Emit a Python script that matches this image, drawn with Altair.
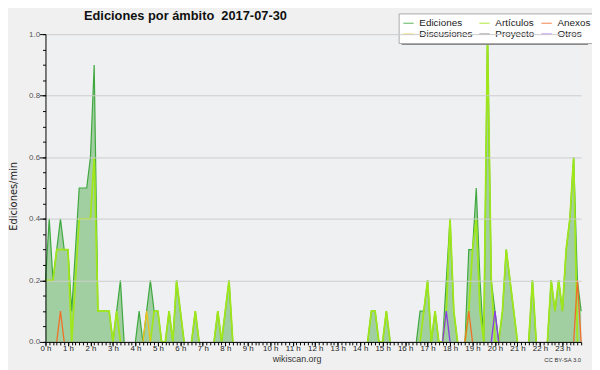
import altair as alt
import pandas as pd

# ---- data: values every 10 minutes (index 0 = 00:00, 143 = 23:50) ----
ediciones = [0.2, 0.4, 0.2, 0.3, 0.4, 0.3, 0.3, 0.1, 0.3, 0.5, 0.5, 0.5, 0.6, 0.9, 0.1, 0.1, 0.1, 0.1, 0, 0.1,
             0.2, 0, 0, 0, 0, 0.1, 0, 0.1, 0.2, 0.1, 0.1, 0, 0, 0.1, 0, 0.2, 0.1, 0, 0, 0,
             0.1, 0, 0, 0, 0, 0, 0.1, 0, 0.1, 0.2, 0, 0, 0, 0, 0, 0, 0, 0, 0, 0,
             0, 0, 0, 0, 0, 0, 0, 0, 0, 0, 0, 0, 0, 0, 0, 0, 0, 0, 0, 0,
             0, 0, 0, 0, 0, 0, 0, 0.1, 0.1, 0, 0, 0.1, 0, 0, 0, 0, 0, 0, 0, 0,
             0.1, 0.1, 0.2, 0, 0.1, 0, 0, 0.2, 0.4, 0.1, 0, 0, 0, 0.3, 0.3, 0.5, 0.2, 0, 1.0, 0.2,
             0.1, 0, 0.1, 0.3, 0.2, 0.1, 0, 0, 0, 0, 0.2, 0, 0, 0, 0, 0.2, 0.1, 0.2, 0.1, 0.3,
             0.4, 0.6, 0.2, 0.1]
articulos = [0.2, 0.2, 0.2, 0.3, 0.3, 0.3, 0.3, 0, 0.2, 0.4, 0.4, 0.4, 0.4, 0.6, 0.1, 0.1, 0.1, 0.1, 0, 0.1,
             0, 0, 0, 0, 0, 0, 0, 0, 0, 0.1, 0.1, 0, 0, 0.1, 0, 0.2, 0.1, 0, 0, 0,
             0.1, 0, 0, 0, 0, 0, 0.1, 0, 0.1, 0.2, 0, 0, 0, 0, 0, 0, 0, 0, 0, 0,
             0, 0, 0, 0, 0, 0, 0, 0, 0, 0, 0, 0, 0, 0, 0, 0, 0, 0, 0, 0,
             0, 0, 0, 0, 0, 0, 0, 0.1, 0.1, 0, 0, 0.1, 0, 0, 0, 0, 0, 0, 0, 0,
             0, 0.1, 0.2, 0, 0.1, 0, 0, 0.1, 0.4, 0.1, 0, 0, 0, 0.1, 0.3, 0.4, 0.1, 0, 1.0, 0.2,
             0, 0, 0.1, 0.3, 0.2, 0.1, 0, 0, 0, 0, 0.2, 0, 0, 0, 0, 0.2, 0.1, 0.2, 0.1, 0.3,
             0.4, 0.6, 0, 0]
anexos = [0] * 4 + [0.1] + [0] * 108 + [0.1] + [0] * 28 + [0.2, 0]
discusiones = [0] * 27 + [0.1] + [0] * 116
otros = [0] * 107 + [0.1] + [0] * 12 + [0.1] + [0] * 23
proyecto = [0] * 144

series_names = ["Ediciones", "Artículos", "Anexos", "Discusiones", "Proyecto", "Otros"]
series_vals = [ediciones, articulos, anexos, discusiones, proyecto, otros]
line_colors = ["#3ea83e", "#9fe61a", "#f07028", "#f2c21a", "#555555", "#8a3ce6"]

rows = []
for name, vals in zip(series_names, series_vals):
    seg = 0
    n = len(vals)
    prev_keep = False
    for j, v in enumerate(vals):
        keep = v > 0 or (j > 0 and vals[j - 1] > 0) or (j < n - 1 and vals[j + 1] > 0)
        if keep:
            rows.append({"serie": name, "t": j / 6, "v": v, "seg": f"{name}{seg}"})
        elif prev_keep:
            seg += 1
        prev_keep = keep
lines_df = pd.DataFrame(rows)
area_df = pd.DataFrame({"t": [j / 6 for j in range(len(ediciones))], "v": ediciones})

W, H = 543, 312
xscale = alt.Scale(domain=[0, 143 / 6], nice=False, zero=False)
yscale = alt.Scale(domain=[0, 1], nice=False)
color_scale = alt.Scale(domain=series_names, range=line_colors)

x_major = alt.X("t:Q", scale=xscale, title=None,
                axis=alt.Axis(values=list(range(24)), labelExpr="datum.value + ' h'", orient="bottom",
                              tickSize=4, tickColor="#000", tickWidth=1, domainColor="#000",
                              labelFont="Liberation Sans", labelFontSize=8, labelColor="#222",
                              labelPadding=-1, grid=False, labelFlush=False, zindex=1))
y_major = alt.Y("v:Q", scale=yscale, title="Ediciones/min",
                axis=alt.Axis(values=[0, 0.2, 0.4, 0.6, 0.8, 1.0], format=".1f", tickSize=6, orient="left",
                              tickColor="#000", tickWidth=1, domainColor="#000",
                              labelFont="Liberation Sans", labelFontSize=8, labelColor="#555",
                              labelPadding=0, grid=True, gridColor="#cccccc", gridWidth=1,
                              titleFont="DejaVu Sans", titleFontSize=10, titleFontWeight="normal",
                              titleColor="#222", titleX=-29, titleY=164, titleAngle=270,
                              titleAlign="center", titleBaseline="alphabetic", zindex=1))

area = alt.Chart(area_df).mark_area(color="#a2cfa2", opacity=1).encode(x=x_major, y=y_major)

minor_ticks = alt.Chart(area_df).mark_point(opacity=0).encode(
    x=alt.X("t:Q", scale=xscale, title=None,
            axis=alt.Axis(values=[j / 6 for j in range(144)], labels=False, tickSize=3, tickWidth=1,
                          tickColor="#000", domain=False, grid=False, orient="bottom", zindex=1)),
    y=alt.Y("v:Q", scale=yscale, title=None,
            axis=alt.Axis(values=[k / 20 for k in range(21)], labels=False, tickSize=3, tickWidth=1,
                          tickColor="#000", domain=False, grid=False, orient="left", zindex=1)),
)

layers = []
widths = {"Ediciones": 1.2, "Artículos": 1.8, "Anexos": 1.3, "Discusiones": 1.3, "Proyecto": 1.3, "Otros": 1.3}
for name in series_names:
    sub = lines_df[lines_df.serie == name]
    if len(sub) == 0:
        sub = pd.DataFrame({"serie": [name], "t": [0.0], "v": [0.0], "seg": [name]})
    layers.append(
        alt.Chart(sub).mark_line(strokeWidth=widths[name], strokeJoin="miter").encode(
            x=alt.X("t:Q", scale=xscale, axis=None),
            y=alt.Y("v:Q", scale=yscale, axis=None),
            color=alt.Color("serie:N", scale=color_scale, title=None,
                            legend=alt.Legend(orient="none", legendX=358, legendY=-21, columns=3,
                                              symbolType="stroke", symbolSize=110,
                                              symbolStrokeWidth=1.3, symbolOpacity=0.65,
                                              labelFont="Liberation Sans", labelFontSize=10,
                                              labelColor="#222", labelOffset=5,
                                              fillColor="#ffffff", strokeColor="#aaaaaa",
                                              padding=4, rowPadding=0, columnPadding=4,
                                              direction="horizontal")),
            detail="seg:N",
            order="t:Q",
        )
    )

one = area_df.head(1)
# legend shadow
shadow = alt.Chart(one).mark_rect(color="#8a8a8a").encode(
    x=alt.value(361), x2=alt.value(550), y=alt.value(8), y2=alt.value(11))
shadow2 = alt.Chart(one).mark_rect(color="#8a8a8a").encode(
    x=alt.value(546), x2=alt.value(550), y=alt.value(-18), y2=alt.value(11))

title = alt.Chart(one).mark_text(
    text="Ediciones por ámbito\u00a0\u00a02017-07-30", font="Liberation Sans", fontSize=13,
    fontWeight="bold", color="#111", align="left", baseline="alphabetic").encode(
    x=alt.value(39), y=alt.value(-14))
site = alt.Chart(one).mark_text(
    text="wikiscan.org", font="Liberation Sans", fontSize=9, color="#333",
    align="center", baseline="alphabetic").encode(x=alt.value(255), y=alt.value(332))
lic = alt.Chart(one).mark_text(
    text="CC BY-SA 3.0", font="Liberation Sans", fontSize=6, color="#333",
    align="right", baseline="alphabetic").encode(x=alt.value(543), y=alt.value(332))

chart = alt.layer(area, minor_ticks, *layers, shadow, shadow2, title, site, lic).resolve_axis(
    x="independent", y="independent"
).properties(
    width=W, height=H,
    autosize=alt.AutoSizeParams(type="none"),
    padding={"left": 38, "top": 24, "right": 11, "bottom": 26},
    background="#f0f0f0",
).configure_view(fill="#eff0f2", stroke=None)

chart.save("out.html", embed_options={"renderer": "svg", "actions": False})
